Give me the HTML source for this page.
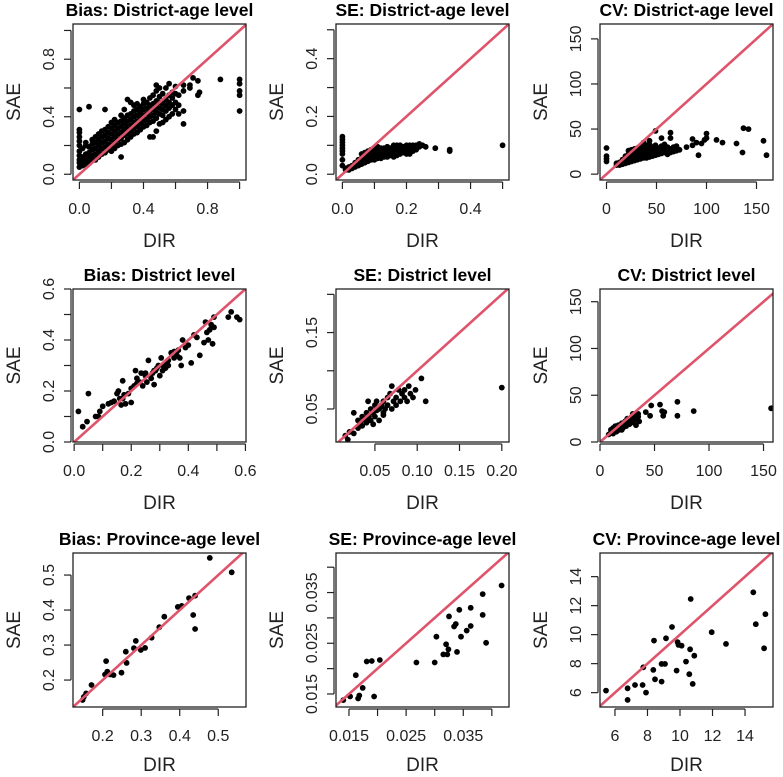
<!DOCTYPE html>
<html><head><meta charset="utf-8"><style>
html,body{margin:0;padding:0;background:#fff;overflow:hidden;}
svg{display:block;font-family:"Liberation Sans",sans-serif;}
</style></head><body>
<svg id="chart" width="783" height="777" viewBox="0 0 783 777" xmlns="http://www.w3.org/2000/svg"></svg>
<script>
// ---- Data (grouped as [x, [y...]]) ----
const biasDistAge = [[0,[0.05,0.08,0.1,0.13,0.16,0.2,0.23,0.26,0.29,0.31,0.45]],[0.02,[0.06,0.09,0.12,0.18]],[0.04,[0.07,0.1,0.14,0.2,0.22]],[0.06,[0.08,0.12,0.15,0.19,0.47]],[0.08,[0.1,0.13,0.17,0.21,0.24]],[0.1,[0.1,0.14,0.18,0.22,0.26]],[0.12,[0.12,0.16,0.2,0.24,0.28]],[0.14,[0.14,0.18,0.22,0.26,0.3]],[0.16,[0.15,0.19,0.23,0.27,0.31,0.45]],[0.18,[0.17,0.21,0.25,0.29,0.33]],[0.2,[0.16,0.2,0.24,0.28,0.32,0.36]],[0.22,[0.18,0.22,0.26,0.3,0.34,0.38]],[0.24,[0.2,0.24,0.28,0.32,0.36]],[0.26,[0.12,0.21,0.25,0.29,0.33,0.37,0.41]],[0.28,[0.22,0.27,0.31,0.35,0.39,0.45]],[0.3,[0.24,0.28,0.33,0.37,0.41,0.52]],[0.32,[0.26,0.3,0.34,0.38,0.42,0.5]],[0.34,[0.28,0.32,0.36,0.4,0.44,0.48]],[0.36,[0.29,0.33,0.37,0.41,0.45,0.49]],[0.38,[0.31,0.35,0.39,0.43,0.47]],[0.4,[0.33,0.37,0.41,0.45,0.49,0.52]],[0.42,[0.34,0.38,0.42,0.46,0.5]],[0.44,[0.26,0.36,0.4,0.44,0.48,0.53]],[0.46,[0.26,0.37,0.41,0.45,0.49,0.55]],[0.48,[0.3,0.39,0.43,0.47,0.51,0.58,0.62]],[0.5,[0.35,0.42,0.46,0.5,0.54,0.6]],[0.52,[0.36,0.41,0.45,0.49,0.56]],[0.54,[0.38,0.44,0.48,0.52,0.6]],[0.56,[0.4,0.46,0.5,0.55,0.63]],[0.58,[0.42,0.48,0.53,0.57]],[0.6,[0.45,0.5,0.56,0.61]],[0.62,[0.42,0.48,0.55]],[0.65,[0.35,0.44,0.58,0.62]],[0.69,[0.6,0.62]],[0.71,[0.67]],[0.74,[0.55,0.65]],[0.75,[0.57]],[0.88,[0.66]],[1.0,[0.44,0.55,0.58,0.63,0.66]]];
const seDistAge = [[0,[0.03,0.05,0.07,0.08,0.09,0.1,0.11,0.12,0.13]],[0.01,[0.015,0.02]],[0.02,[0.015,0.025]],[0.03,[0.02,0.03]],[0.04,[0.025,0.035,0.04]],[0.05,[0.03,0.04,0.05]],[0.06,[0.035,0.045,0.055,0.07]],[0.07,[0.04,0.05,0.06,0.075]],[0.08,[0.045,0.055,0.065,0.08]],[0.09,[0.05,0.06,0.07,0.085]],[0.1,[0.05,0.06,0.07,0.08,0.09]],[0.11,[0.055,0.065,0.075,0.085,0.095]],[0.12,[0.055,0.07,0.08,0.09]],[0.13,[0.06,0.07,0.08,0.09]],[0.14,[0.06,0.075,0.085,0.095]],[0.15,[0.065,0.075,0.085,0.09]],[0.16,[0.06,0.075,0.085,0.1]],[0.17,[0.065,0.08,0.09,0.1]],[0.18,[0.07,0.08,0.09,0.1]],[0.19,[0.075,0.085,0.095]],[0.2,[0.07,0.085,0.095,0.1]],[0.21,[0.07,0.08,0.09,0.1]],[0.22,[0.08,0.09,0.1]],[0.23,[0.085,0.1]],[0.24,[0.095,0.105]],[0.25,[0.1]],[0.26,[0.095]],[0.29,[0.09]],[0.335,[0.08,0.085]],[0.5,[0.1]]];
const cvDistAge = [[0,[14,17,20,29]],[10,[10,12]],[13,[10,13]],[16,[11,14,16]],[19,[12,15,18,20]],[22,[13,16,19,22,26]],[25,[14,17,20,23,27]],[28,[15,18,21,24,28]],[31,[16,19,22,25,29]],[34,[17,20,23,26,30]],[37,[18,21,24,27,31,35]],[40,[18,22,25,28,32]],[43,[19,23,26,29,33,37]],[46,[20,24,27,30]],[49,[21,25,28,32,48]],[52,[22,26,29]],[55,[23,27,31,40]],[58,[24,28,33]],[61,[22,26,30]],[64,[24,28,40,46]],[67,[25,30]],[70,[26,31]],[73,[27]],[80,[30]],[86,[32,39]],[90,[35]],[92,[21]],[95,[34]],[98,[38]],[100,[40,45]],[110,[38]],[116,[35]],[130,[34]],[136,[24]],[137,[51]],[142,[50]],[157,[37]],[160,[21]]];
const biasDist = [[0.015,[0.12]],[0.03,[0.06]],[0.045,[0.08]],[0.05,[0.19]],[0.075,[0.1]],[0.085,[0.1]],[0.09,[0.12]],[0.1,[0.14]],[0.12,[0.15]],[0.13,[0.155]],[0.14,[0.16]],[0.15,[0.19]],[0.155,[0.2]],[0.16,[0.17]],[0.165,[0.145]],[0.17,[0.24,0.17]],[0.175,[0.185]],[0.18,[0.15]],[0.19,[0.19]],[0.2,[0.155,0.21]],[0.21,[0.22]],[0.215,[0.28]],[0.22,[0.25,0.23]],[0.23,[0.235]],[0.235,[0.27]],[0.24,[0.22]],[0.25,[0.26,0.27]],[0.255,[0.235]],[0.26,[0.32]],[0.27,[0.25]],[0.275,[0.27]],[0.28,[0.225,0.28]],[0.285,[0.28]],[0.29,[0.29]],[0.295,[0.3]],[0.3,[0.26]],[0.305,[0.33]],[0.31,[0.28,0.3]],[0.32,[0.29]],[0.325,[0.31]],[0.33,[0.3,0.32]],[0.34,[0.35]],[0.35,[0.33,0.355]],[0.36,[0.34]],[0.365,[0.36]],[0.37,[0.33]],[0.375,[0.3]],[0.38,[0.4]],[0.39,[0.37]],[0.4,[0.38]],[0.41,[0.31]],[0.42,[0.42]],[0.43,[0.41]],[0.44,[0.34]],[0.455,[0.39]],[0.46,[0.47]],[0.465,[0.43]],[0.47,[0.4]],[0.475,[0.44]],[0.48,[0.46]],[0.485,[0.385]],[0.49,[0.45,0.49]],[0.54,[0.49]],[0.55,[0.51]],[0.57,[0.49]],[0.58,[0.48]]];
const seDist = [[0.015,[0.015]],[0.018,[0.01]],[0.02,[0.02]],[0.025,[0.018,0.045]],[0.03,[0.025,0.035]],[0.032,[0.03]],[0.033,[0.033]],[0.035,[0.04,0.028]],[0.038,[0.036]],[0.04,[0.045,0.032,0.038]],[0.042,[0.06]],[0.043,[0.04]],[0.045,[0.05,0.035]],[0.048,[0.045,0.03]],[0.05,[0.055,0.04]],[0.052,[0.06,0.048]],[0.055,[0.05,0.035]],[0.056,[0.052]],[0.058,[0.055]],[0.06,[0.045,0.06,0.042]],[0.062,[0.05]],[0.065,[0.065,0.055]],[0.068,[0.07]],[0.07,[0.05,0.08]],[0.072,[0.06]],[0.075,[0.065,0.055]],[0.078,[0.075]],[0.08,[0.06]],[0.082,[0.07]],[0.085,[0.075,0.065]],[0.088,[0.06]],[0.09,[0.08]],[0.092,[0.07]],[0.095,[0.065]],[0.098,[0.075]],[0.105,[0.09]],[0.11,[0.06]],[0.2,[0.078]]];
const cvDist = [[8,[8]],[10,[10,13]],[12,[9,15]],[13,[12]],[14,[17]],[15,[11,15]],[16,[14]],[17,[18]],[18,[13]],[19,[16]],[20,[20,13]],[21,[15]],[22,[18]],[23,[22]],[24,[17]],[25,[20,25]],[26,[24]],[27,[19]],[28,[22]],[29,[25]],[30,[21,30]],[31,[27]],[32,[24]],[33,[18]],[34,[26]],[35,[30,27]],[36,[22]],[42,[32]],[46,[28]],[47,[39]],[55,[40]],[57,[33]],[58,[28]],[59,[32]],[71,[43,28]],[86,[33]],[157,[36]]];
const biasProvAge = [[0.148,[0.143]],[0.151,[0.152]],[0.157,[0.162]],[0.171,[0.186]],[0.206,[0.216]],[0.209,[0.254]],[0.212,[0.224]],[0.219,[0.216]],[0.228,[0.214]],[0.249,[0.221]],[0.26,[0.281]],[0.262,[0.249]],[0.281,[0.291]],[0.286,[0.312]],[0.299,[0.286]],[0.31,[0.292]],[0.327,[0.321]],[0.347,[0.351]],[0.36,[0.381]],[0.395,[0.409]],[0.405,[0.412]],[0.424,[0.434]],[0.435,[0.386]],[0.44,[0.441,0.346]],[0.478,[0.549]],[0.535,[0.508]]];
const seProvAge = [[0.014,[0.0138]],[0.0152,[0.0145]],[0.0162,[0.0187]],[0.0166,[0.0141]],[0.0168,[0.0147]],[0.0174,[0.0162]],[0.0181,[0.0214]],[0.019,[0.0215]],[0.0194,[0.0145]],[0.0204,[0.0217]],[0.0268,[0.0212]],[0.03,[0.0212]],[0.0303,[0.0263]],[0.0315,[0.0228]],[0.032,[0.0248]],[0.0322,[0.0228]],[0.0324,[0.0238]],[0.0325,[0.0303]],[0.0334,[0.0283]],[0.0337,[0.0288]],[0.0339,[0.0233]],[0.0343,[0.0316]],[0.0346,[0.0263]],[0.0356,[0.0275]],[0.0363,[0.032,0.0284]],[0.0384,[0.0347,0.0306]],[0.039,[0.0251]],[0.0417,[0.0364]]];
const cvProvAge = [[5.45,[6.14]],[6.78,[6.3,5.5]],[7.23,[6.53]],[7.7,[6.53]],[7.74,[7.75]],[7.91,[6.0]],[8.36,[7.57]],[8.4,[9.59]],[8.46,[6.92]],[8.87,[6.76,7.98]],[9.08,[7.98]],[9.14,[9.75]],[9.51,[10.53]],[9.79,[7.52]],[9.85,[9.48]],[9.91,[9.29]],[10.1,[9.24]],[10.37,[8.14]],[10.57,[7.27]],[10.62,[8.99]],[10.66,[12.46]],[10.78,[6.6]],[10.88,[8.55]],[11.95,[10.17]],[12.83,[9.36]],[14.51,[12.92]],[14.66,[10.72]],[15.17,[9.06]],[15.25,[11.41]]];

// ---- Tick arrays ----
const ticksP1 = [0,0.2,0.4,0.6,0.8,1.0];   const labelsP1 = ["0.0","","0.4","","0.8",""];
const ticksP2 = [0,0.1,0.2,0.3,0.4,0.5];   const labelsP2 = ["0.0","","0.2","","0.4",""];
const ticksCV = [0,50,100,150];            const labelsCV = ["0","50","100","150"];
const ticksP4 = [0,0.1,0.2,0.3,0.4,0.5,0.6]; const labelsP4 = ["0.0","","0.2","","0.4","","0.6"];
const ticksP5 = [0.05,0.1,0.15,0.2];       const xLabelsP5 = ["0.05","0.10","0.15","0.20"]; const yLabelsP5 = ["0.05","","0.15",""];
const ticksP7 = [0.2,0.3,0.4,0.5];         const labelsP7 = ["0.2","0.3","0.4","0.5"];
const ticksP8 = [0.015,0.02,0.025,0.03,0.035,0.04]; const labelsP8 = ["0.015","","0.025","","0.035",""];
const ticksP9 = [6,8,10,12,14];            const labelsP9 = ["6","8","10","12","14"];
const titles = ["Bias: District-age level","SE: District-age level","CV: District-age level","Bias: District level","SE: District level","CV: District level","Bias: Province-age level","SE: Province-age level","CV: Province-age level"];

const cols=[73,336,600], W=173;
const rows=[[24,180],[289,442],[553,707]];
const dirOffset=[67,67,64];
const panels=[
 {data:biasDistAge,xd:[-0.04,1.04],yd:[-0.04,1.045],xt:ticksP1,xl:labelsP1,yt:ticksP1,yl:labelsP1,name:"bias-district-age"},
 {data:seDistAge,xd:[-0.02,0.52],yd:[-0.02,0.52],xt:ticksP2,xl:labelsP2,yt:ticksP2,yl:labelsP2,name:"se-district-age"},
 {data:cvDistAge,xd:[-6.5,166.5],yd:[-6.5,166.5],xt:ticksCV,xl:labelsCV,yt:ticksCV,yl:labelsCV,name:"cv-district-age"},
 {data:biasDist,xd:[-0.004,0.602],yd:[0,0.6],xt:ticksP4,xl:labelsP4,yt:ticksP4,yl:labelsP4,name:"bias-district"},
 {data:seDist,xd:[0.004,0.2085],yd:[0.0068,0.207],xt:ticksP5,xl:xLabelsP5,yt:ticksP5,yl:yLabelsP5,name:"se-district"},
 {data:cvDist,xd:[0,158.7],yd:[0,163.6],xt:ticksCV,xl:labelsCV,yt:ticksCV,yl:labelsCV,name:"cv-district"},
 {data:biasProvAge,xd:[0.123,0.572],yd:[0.123,0.563],xt:ticksP7,xl:labelsP7,yt:ticksP7,yl:labelsP7,name:"bias-province-age"},
 {data:seProvAge,xd:[0.01273,0.043],yd:[0.01243,0.0428],xt:ticksP8,xl:labelsP8,yt:ticksP8,yl:labelsP8,name:"se-province-age"},
 {data:cvProvAge,xd:[5.08,15.72],yd:[5.01,15.63],xt:ticksP9,xl:labelsP9,yt:ticksP9,yl:labelsP9,name:"cv-province-age"}
];
const NS="http://www.w3.org/2000/svg";
const svg=document.getElementById('chart');
function mk(tag,attrs,parent,text){const e=document.createElementNS(NS,tag);for(const k in attrs)e.setAttribute(k,attrs[k]);if(text!==undefined)e.textContent=text;parent.appendChild(e);return e;}
panels.forEach((p,i)=>{
  const r=Math.floor(i/3);
  const L=cols[i%3],R=L+W,T=rows[r][0],B=rows[r][1];
  const sx=v=>L+(v-p.xd[0])/(p.xd[1]-p.xd[0])*(R-L);
  const sy=v=>B-(v-p.yd[0])/(p.yd[1]-p.yd[0])*(B-T);
  const g=mk('g',{},svg);
  
  
  const cid='clip'+i;
  const cp=mk('clipPath',{id:cid},g);mk('rect',{x:L,y:T,width:W,height:B-T},cp);
  const title=mk('text',{x:(L+R)/2,y:T-8,'text-anchor':'middle','font-size':'17.5','font-weight':'bold',fill:'#000'},g,titles[i]);
  
  
  const pg=mk('g',{'clip-path':'url(#'+cid+')'},g);
  
  
  p.data.forEach(([x,ys])=>ys.forEach(y=>{
    const c=mk('circle',{cx:sx(x).toFixed(1),cy:sy(y).toFixed(1),r:2.9,fill:'#000'},pg);
    
    
  }));
  const lo=Math.min(p.xd[0],p.yd[0])-1, hi=Math.max(p.xd[1],p.yd[1])+1;
  const ln=mk('line',{x1:sx(lo),y1:sy(lo),x2:sx(hi),y2:sy(hi),stroke:'#DF536B','stroke-width':2.6,'clip-path':'url(#'+cid+')'},g);
  
  
  const bx=mk('rect',{x:L,y:T,width:W,height:B-T,fill:'none',stroke:'#222','stroke-width':1.3},g);
  
  
  const xa=mk('g',{},g);
  
  
  mk('line',{x1:sx(p.xt[0]),x2:sx(p.xt[p.xt.length-1]),y1:B+2,y2:B+2,stroke:'#222','stroke-width':1.2},xa);
  p.xt.forEach((t,k)=>{const X=sx(t);mk('line',{x1:X,x2:X,y1:B+2,y2:B+9,stroke:'#222','stroke-width':1.2},xa);
    if(p.xl[k]){const tl=mk('text',{x:X,y:B+34,'text-anchor':'middle','font-size':'16',fill:'#222'},xa,p.xl[k]);
    
    }});
  const ya=mk('g',{},g);
  
  
  mk('line',{x1:L-2,x2:L-2,y1:sy(p.yt[0]),y2:sy(p.yt[p.yt.length-1]),stroke:'#222','stroke-width':1.2},ya);
  p.yt.forEach((t,k)=>{const Y=sy(t);mk('line',{x1:L-2,x2:L-9,y1:Y,y2:Y,stroke:'#222','stroke-width':1.2},ya);
    if(p.yl[k]){const tl=mk('text',{x:0,y:0,'text-anchor':'middle','font-size':'16',fill:'#222',transform:'translate('+(L-19)+','+Y+') rotate(-90)'},ya,p.yl[k]);
    
    }});
  const xt=mk('text',{x:(L+R)/2,y:B+dirOffset[r],'text-anchor':'middle','font-size':'19',fill:'#222'},g,'DIR');
  
  
  const yt=mk('text',{x:0,y:0,'text-anchor':'middle','font-size':'19',fill:'#222',transform:'translate('+(L-53)+','+((T+B)/2)+') rotate(-90)'},g,'SAE');
  
  
});
</script>
</body></html>
